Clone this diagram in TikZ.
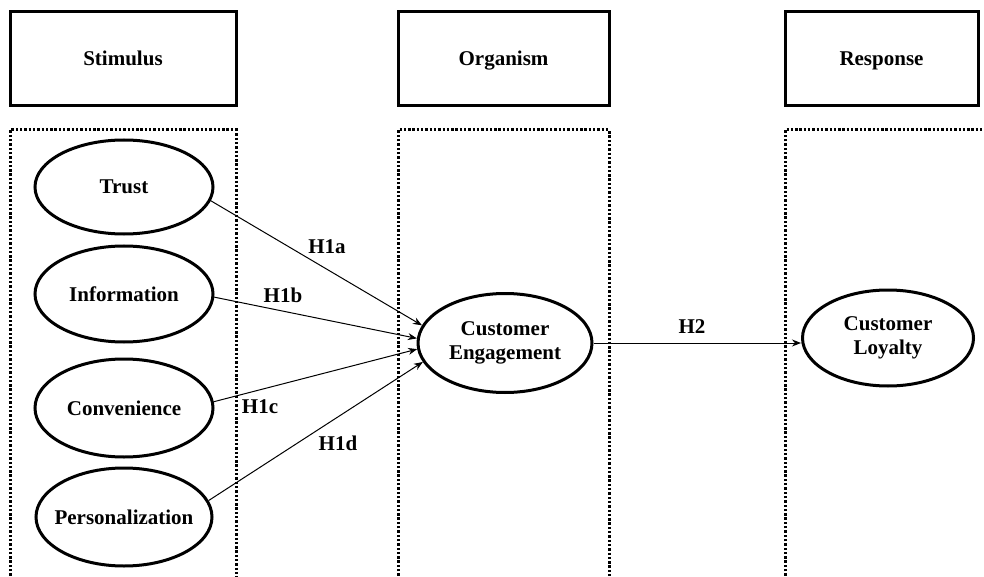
\documentclass[tikz,border=0pt]{standalone}
\usepackage{fontspec}
\setmainfont{Liberation Serif}
\usetikzlibrary{shapes.geometric, arrows.meta, positioning}

\tikzset{
  stage/.style={shape=rectangle, draw=black, line width=3pt, minimum width=226pt, minimum height=94pt, text height=14pt, text depth=0pt},
  latent/.style={shape=ellipse, draw=black, line width=3pt, inner sep=0pt, align=center, minimum width=178pt, minimum height=94pt},
  dotframe/.style={line width=3pt, dash pattern=on 2.4pt off 1.9pt},
  hyparrow/.style={-{Stealth[length=9pt, width=7pt]}, line width=1pt},
  every node/.style={font=\bfseries\fontsize{21}{24}\selectfont}
}

\begin{document}
\begin{tikzpicture}[x=1pt, y=-1pt]
\useasboundingbox (0,0) rectangle (984,577);
%stages
\node[stage] (stim) at (123,59) {Stimulus};
\node[stage, minimum width=211pt] (org) at (503.5,59) {Organism};
\node[stage, minimum width=193pt] (resp) at (881.5,59) {Response};
%dotted frames, open at the bottom
\draw[dotframe] (10,580) -- (10,130) -- (236,130) -- (236,580);
\draw[dotframe] (398,580) -- (398,130) -- (609,130) -- (609,580);
\draw[dotframe] (785,580) -- (785,130) -- (990,130);
%constructs
\node[latent] (trust) at (124,187) {Trust};
\node[latent, minimum height=96pt] (info) at (124,294) {Information};
\node[latent, minimum height=98pt] (conv) at (124,408) {Convenience};
\node[latent, inner xsep=-10pt, minimum width=176pt, minimum height=98pt] (pers) at (124,517) {Personalization};
\node[latent, minimum width=174pt, minimum height=99pt] (eng) at (505,343) {Customer\\Engagement};
\node[latent, minimum width=171pt, minimum height=96pt] (loy) at (888,338) {Customer\\Loyalty};
%hypotheses
\node (h1a) at (327,247) {H1a}; \node (h1b) at (283,295) {H1b};
\node (h1c) at (260,407) {H1c}; \node (h1d) at (338,443) {H1d};
\node (h2) at (692,327) {H2};
\draw[hyparrow] (trust.-9) -- (eng.168);
\draw[hyparrow] (info.-2) -- (eng.177);
\draw[hyparrow] (conv.4) -- (eng.184);
\draw[hyparrow] (pers.11) -- (eng.193);
\draw[hyparrow] (eng.east |- 0,343) -- (loy.west |- 0,343);
\end{tikzpicture}
\end{document}
